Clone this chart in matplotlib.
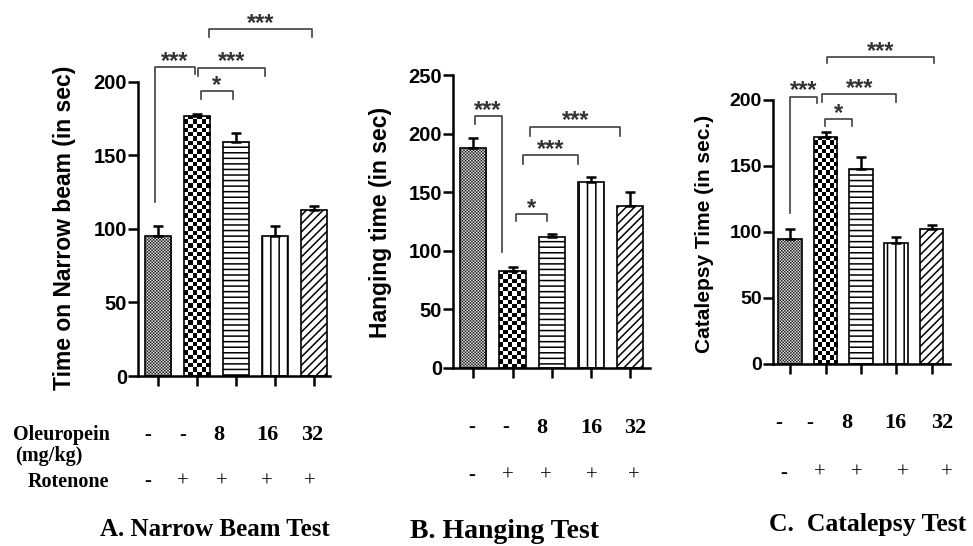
import matplotlib
matplotlib.use("Agg")
import matplotlib.pyplot as plt
import numpy as np

W, H = 973, 546

OLEUROPEIN = ["-", "-", "8", "16", "32"]
ROTENONE = ["-", "+", "+", "+", "+"]

BEAM_MEAN = [95, 177, 159, 95, 113]
BEAM_SEM = [7, 1.2, 6, 7, 2.7]
HANG_MEAN = [188, 83, 112, 159, 138]
HANG_SEM = [8, 3, 2.6, 4, 12]
CATA_MEAN = [95, 172, 148, 92, 102]
CATA_SEM = [7, 4, 8.6, 4, 3]

# (x_left, x_right, level, left leg end, right leg end, label)
BEAM_SIG = [
    (-0.08, 0.95, 209.7, 118, 205, "***"),
    (1.03, 2.74, 209.5, 204, 204, "***"),
    (1.10, 1.92, 193.5, 188.5, 188.5, "*"),
    (1.31, 3.95, 235.5, 230.5, 230.5, "***"),
]
HANG_SIG = [
    (0.03, 0.72, 215.3, 208, 99, "***"),
    (1.09, 1.88, 131, 125, 125, "*"),
    (1.26, 2.66, 182, 174.5, 174.5, "***"),
    (1.45, 3.75, 206, 198, 198, "***"),
]
CATA_SIG = [
    (-0.02, 0.75, 202.5, 114.5, 197.5, "***"),
    (0.99, 1.74, 185.4, 180.4, 180.4, "*"),
    (0.91, 3.0, 204.3, 198.7, 198.7, "***"),
    (1.05, 4.08, 232.7, 227.7, 227.7, "***"),
]

PATTERNS = ["fine", "coarse", "---", "||", "////"]

plt.rcParams["font.family"] = "Liberation Sans"
plt.rcParams["hatch.linewidth"] = 1.1


def px_axes(fig, left, right, y0, ytop):
    return fig.add_axes([left / W, 1 - y0 / H, (right - left) / W, (y0 - ytop) / H])


def checker_fill(ax, bar, cell_px, interp):
    x0, y0 = bar.get_x(), bar.get_y()
    w, h = bar.get_width(), bar.get_height()
    (px0, py0), (px1, py1) = ax.transData.transform([(x0, y0), (x0 + w, y0 + h)])
    nx = max(1, int(round((px1 - px0) / cell_px)))
    ny = max(1, int(round((py1 - py0) / cell_px)))
    grid = (np.add.outer(np.arange(ny), np.arange(nx)) % 2).astype(float)
    im = ax.imshow(grid, cmap="gray_r", vmin=0, vmax=1, extent=(x0, x0 + w, y0, y0 + h),
                   origin="lower", interpolation=interp, aspect="auto", zorder=1.5)
    im.set_clip_path(bar)


def draw_panel(ax, means, sems, sigs, ymax, xlim, ylabel_size):
    x = np.arange(len(means))
    ax.set_xlim(*xlim)
    ax.set_ylim(0, ymax)
    bars = ax.bar(x, means, width=0.67, color="white", edgecolor="black", linewidth=1.2, zorder=2)
    for bar, pat in zip(bars, PATTERNS):
        if pat == "fine":
            bar.set_facecolor("none")
            checker_fill(ax, bar, 1.5, "antialiased")
        elif pat == "coarse":
            bar.set_facecolor("none")
            checker_fill(ax, bar, 4.3, "nearest")
        else:
            bar.set_hatch(pat)
    ax.errorbar(x, means, yerr=[np.zeros(len(sems)), sems], fmt="none", ecolor="black",
                elinewidth=1.8, capsize=3.5, capthick=1.8, zorder=3)
    ax.set_xlim(*xlim)
    ax.set_ylim(0, ymax)

    for x1, x2, lvl, d1, d2, label in sigs:
        ax.plot([x1, x1, x2, x2], [d1, lvl, lvl, d2], color="0.25", lw=1.2, clip_on=False)
        ax.annotate(label, ((x1 + x2) / 2, lvl), xytext=(0, -0.5), textcoords="offset points",
                    ha="center", va="baseline", fontsize=17, fontweight="bold",
                    color="0.2", annotation_clip=False)

    for side in ["top", "right"]:
        ax.spines[side].set_visible(False)
    for side in ["left", "bottom"]:
        ax.spines[side].set_linewidth(1.8)
    ax.set_yticks(np.arange(0, ymax + 1, 50))
    ax.set_xticks(x)
    ax.set_xticklabels([])
    ax.tick_params(axis="both", length=7, width=1.8, direction="out")
    ax.tick_params(axis="y", labelsize=ylabel_size, pad=1)
    for lbl in ax.get_yticklabels():
        lbl.set_fontweight("bold")


fig = plt.figure(figsize=(W / 100, H / 100), dpi=100)
fig.patch.set_facecolor("white")

ax_a = px_axes(fig, 138, 330, 376, 81.7)
draw_panel(ax_a, BEAM_MEAN, BEAM_SEM, BEAM_SIG, 200, (-0.51, 4.41), 14.5)
ax_b = px_axes(fig, 453, 650, 367.7, 75.3)
draw_panel(ax_b, HANG_MEAN, HANG_SEM, HANG_SIG, 250, (-0.52, 4.51), 14.5)
ax_c = px_axes(fig, 773, 950, 364, 100)
draw_panel(ax_c, CATA_MEAN, CATA_SEM, CATA_SIG, 200, (-0.49, 4.52), 14)

# y-axis titles
fig.text(65 / W, 1 - 228 / H, "Time on Narrow beam (in sec)", rotation=90, ha="center",
         va="center", fontsize=16.5, fontweight="bold")
fig.text(380 / W, 1 - 222 / H, "Hanging time (in sec)", rotation=90, ha="center",
         va="center", fontsize=16.5, fontweight="bold")
fig.text(705 / W, 1 - 234 / H, "Catalepsy Time (in sec.)", rotation=90, ha="center",
         va="center", fontsize=15, fontweight="bold")

# treatment table under each panel
SERIF = "Liberation Serif"
fig.text(13 / W, 1 - 435 / H, "Oleuropein", ha="left", va="center", fontsize=14.5,
         fontweight="bold", family=SERIF)
fig.text(15 / W, 1 - 456 / H, "(mg/kg)", ha="left", va="center", fontsize=14.5,
         fontweight="bold", family=SERIF)
fig.text(28 / W, 1 - 482 / H, "Rotenone", ha="left", va="center", fontsize=14.5,
         fontweight="bold", family=SERIF)

TABLE_LAYOUT = [
    ([148, 183, 219, 267, 312], 435, [148, 183, 222, 267, 310], 482),
    ([472, 506, 542, 591, 635], 428, [472, 508, 546, 592, 634], 476),
    ([779, 810, 847, 895, 942], 423, [784, 820, 857, 903, 947], 473),
]
for cols1, y1, cols2, y2 in TABLE_LAYOUT:
    for cx, val in zip(cols1, OLEUROPEIN):
        bold = val not in ("-", "+")
        fig.text(cx / W, 1 - y1 / H, val, ha="center", va="center", family=SERIF,
                 fontsize=16 if bold else 15, fontweight="bold" if bold else "normal")
    for cx, val in zip(cols2, ROTENONE):
        fig.text(cx / W, 1 - y2 / H, val, ha="center", va="center", family=SERIF,
                 fontsize=15)

fig.text(215 / W, 1 - 530 / H, "A. Narrow Beam Test", ha="center", va="center",
         family=SERIF, fontsize=18, fontweight="bold")
fig.text(504 / W, 1 - 532 / H, "B. Hanging Test", ha="center", va="center",
         family=SERIF, fontsize=20, fontweight="bold")
fig.text(868 / W, 1 - 525 / H, "C.  Catalepsy Test", ha="center", va="center",
         family=SERIF, fontsize=18.5, fontweight="bold")

fig.savefig("out.png", dpi=100, facecolor="white")
